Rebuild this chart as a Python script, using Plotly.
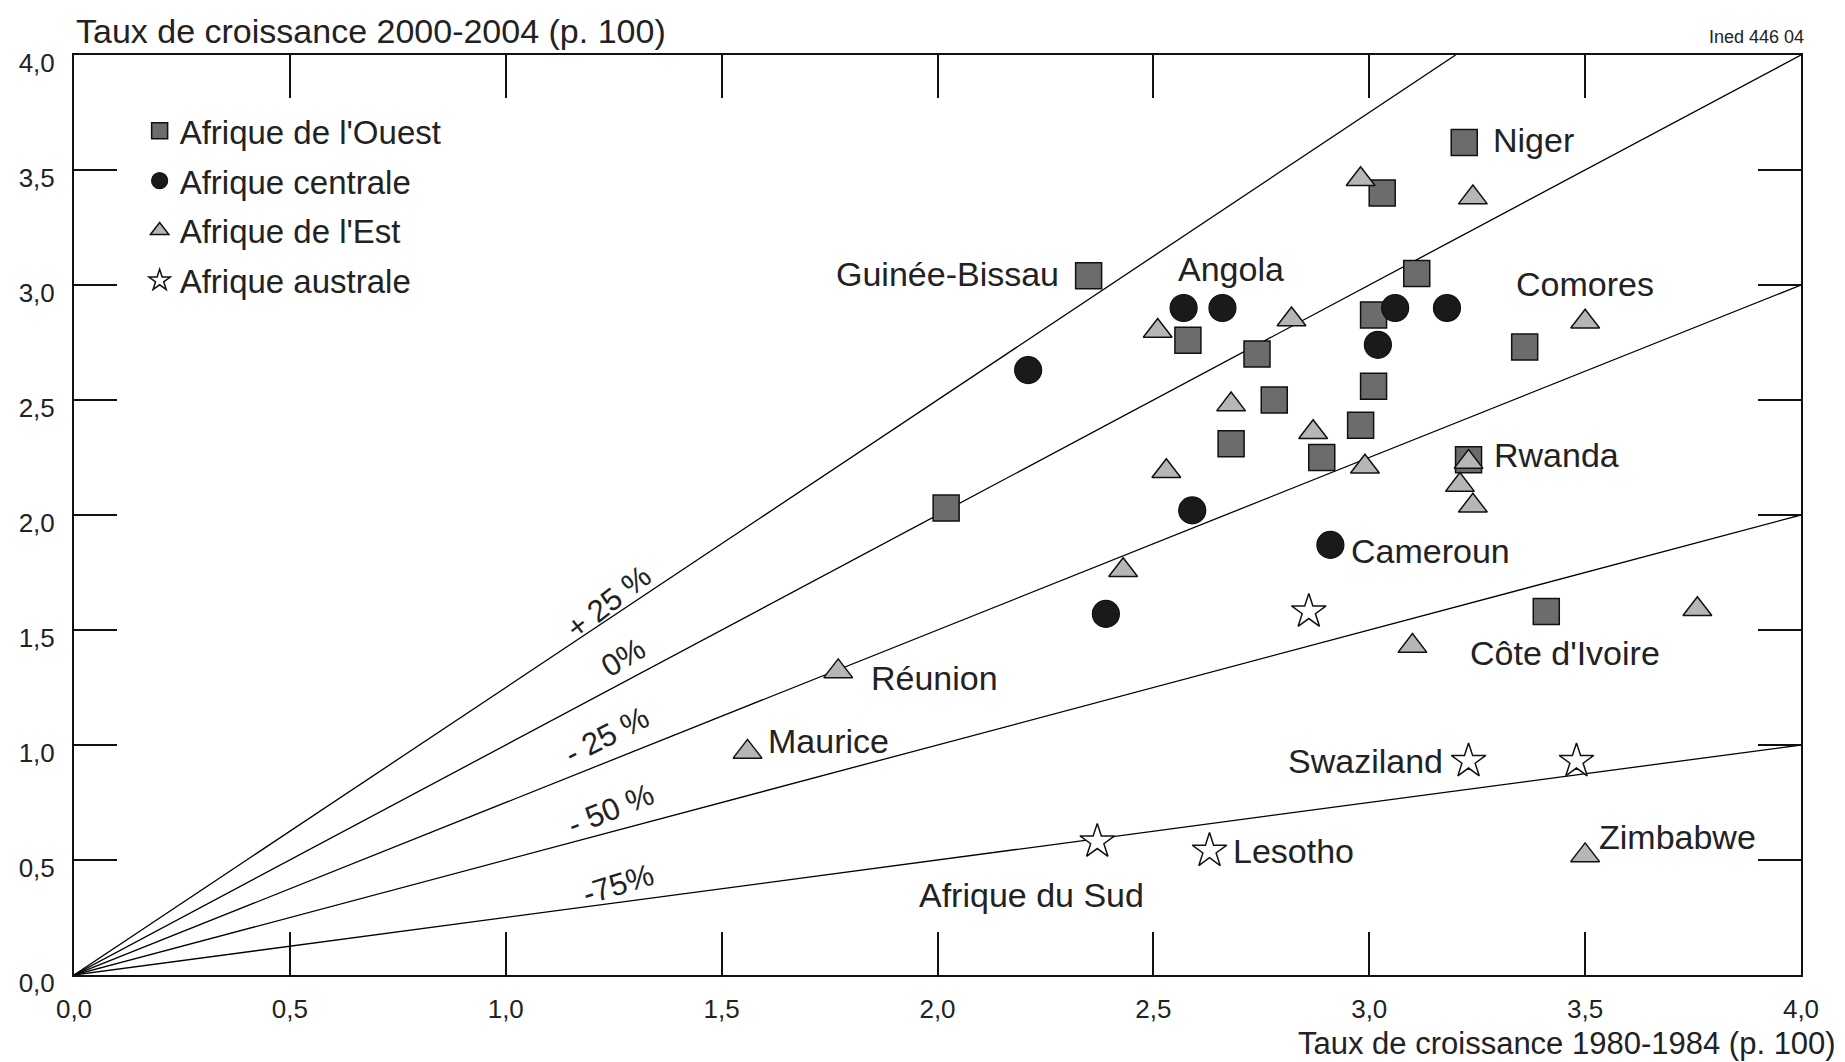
import plotly.graph_objects as go

# ---------------- data ----------------
ouest_x = [3.22, 3.03, 2.35, 3.11, 3.01, 2.58, 2.74, 3.36, 3.01, 2.78, 2.98, 2.68, 2.89, 3.23, 2.02, 3.41]
ouest_y = [3.62, 3.40, 3.04, 3.05, 2.87, 2.76, 2.70, 2.73, 2.56, 2.50, 2.39, 2.31, 2.25, 2.24, 2.03, 1.58]

centrale_x = [2.21, 2.57, 2.66, 3.06, 3.18, 3.02, 2.59, 2.91, 2.39]
centrale_y = [2.63, 2.90, 2.90, 2.90, 2.90, 2.74, 2.02, 1.87, 1.57]

est_x = [2.98, 3.24, 2.51, 2.82, 3.50, 2.68, 2.87, 2.53, 2.99, 3.23, 3.21, 3.24, 2.43, 3.10, 3.76, 1.77, 1.56, 3.50]
est_y = [3.46, 3.38, 2.80, 2.85, 2.84, 2.48, 2.36, 2.19, 2.21, 2.23, 2.13, 2.04, 1.76, 1.43, 1.59, 1.32, 0.97, 0.52]

australe_x = [2.86, 3.23, 3.48, 2.37, 2.63]
australe_y = [1.58, 0.93, 0.93, 0.58, 0.54]

series_names = ["Afrique de l'Ouest", "Afrique centrale", "Afrique de l'Est", "Afrique australe"]

# country labels: (text, x, y of the labelled point)
label_text = ["Niger", "Guinée-Bissau", "Angola", "Comores", "Rwanda", "Cameroun", "Côte d'Ivoire",
              "Réunion", "Maurice", "Swaziland", "Lesotho", "Afrique du Sud", "Zimbabwe"]
label_x = [3.22, 2.35, 2.66, 3.50, 3.23, 2.91, 3.41, 1.77, 1.56, 3.23, 2.63, 2.37, 3.50]
label_y = [3.62, 3.04, 2.90, 2.84, 2.24, 1.87, 1.58, 1.32, 0.97, 0.93, 0.54, 0.58, 0.52]

# reference lines: change of growth rate between the periods
ratio_change = [0.25, 0.0, -0.25, -0.50, -0.75]
ratio_text = ["+ 25 %", "0%", "- 25 %", "- 50 %", "-75%"]

tick_vals = [0, 0.5, 1, 1.5, 2, 2.5, 3, 3.5, 4]
tick_text = ["0,0", "0,5", "1,0", "1,5", "2,0", "2,5", "3,0", "3,5", "4,0"]

x_title = "Taux de croissance 1980-1984 (p. 100)"
y_title = "Taux de croissance 2000-2004 (p. 100)"
source_note = "Ined 446 04"

# ---------------- styling ----------------
FONT = "Liberation Sans Narrow, Arial Narrow, Liberation Sans, Arial, sans-serif"
AX_MAX = 4.0

fig = go.Figure()

# reference lines
for r in ratio_change:
    k = 1 + r
    xe = min(AX_MAX, AX_MAX / k)
    fig.add_trace(go.Scatter(x=[0, xe], y=[0, k * xe], mode="lines",
                             line=dict(color="black", width=1.3),
                             showlegend=False, hoverinfo="skip"))

marker_styles = [
    dict(symbol="square", size=26, color="#6c6c6c", line=dict(color="#111111", width=1.5)),
    dict(symbol="circle", size=27, color="#1a1a1a", line=dict(color="#111111", width=1.2)),
    dict(symbol="triangle-up", size=25, color="#b6b6b6", line=dict(color="#111111", width=1.5)),
    dict(symbol="star", size=26, color="white", line=dict(color="#111111", width=1.5)),
]
xs = [ouest_x, centrale_x, est_x, australe_x]
ys = [ouest_y, centrale_y, est_y, australe_y]
for i, (name, x, y, m) in enumerate(zip(series_names, xs, ys, marker_styles)):
    fig.add_trace(go.Scatter(x=x, y=y, mode="markers", name=name, marker=m,
                             legendgroup=f"g{i}"))

# country labels offsets (pixels)
label_style = {
    "Niger": ("left", 27, 2),
    "Guinée-Bissau": ("right", -28, 2),
    "Angola": ("center", 9, 39),
    "Comores": ("center", 0, 38),
    "Rwanda": ("left", 23, 5),
    "Cameroun": ("left", 19, -6),
    "Côte d'Ivoire": ("center", 19, -41),
    "Réunion": ("left", 31, -7),
    "Maurice": ("left", 18, 11),
    "Swaziland": ("right", -24, 0),
    "Lesotho": ("left", 21, 0),
    "Afrique du Sud": ("center", -66, -53),
    "Zimbabwe": ("left", 12, 18),
}
for t, x, y in zip(label_text, label_x, label_y):
    anc, dx, dy = label_style[t]
    fig.add_annotation(x=x, y=y, text=t, showarrow=False, xanchor=anc, yanchor="middle",
                       xshift=dx, yshift=dy, font=dict(family=FONT, size=34, color="#222"))

# reference-line labels
line_label_pos = [(1.237, 1.62, -38), (1.272, 1.38, -31), (1.234, 1.043, -27),
                  (1.243, 0.72, -22), (1.259, 0.394, -17)]
for t, (x, y, a) in zip(ratio_text, line_label_pos):
    fig.add_annotation(x=x, y=y, text=t, showarrow=False, textangle=a,
                       font=dict(family=FONT, size=31, color="#222"))

# axis titles and note
fig.add_annotation(xref="paper", yref="paper", x=0, y=1, xanchor="left", yanchor="middle",
                   yshift=24, text=y_title, showarrow=False,
                   font=dict(family=FONT, size=34, color="#222"))
fig.add_annotation(xref="paper", yref="paper", x=1, y=0, xanchor="right", yanchor="middle",
                   xshift=37, yshift=-68, text=x_title, showarrow=False,
                   font=dict(family=FONT, size=31, color="#222"))
fig.add_annotation(xref="paper", yref="paper", x=1, y=1, xanchor="right", yanchor="middle",
                   xshift=5, yshift=18, text=source_note, showarrow=False,
                   font=dict(family=FONT, size=18, color="#222"))

axis_common = dict(range=[0, AX_MAX], showgrid=False, zeroline=False, showline=True,
                   linecolor="#111", linewidth=2, mirror="ticks", ticks="inside",
                   ticklen=43, tickwidth=1.5, tickcolor="#111",
                   tickvals=tick_vals, ticktext=tick_text,
                   tickfont=dict(family=FONT, size=26, color="#222"))

fig.update_layout(
    width=1837, height=1054,
    margin=dict(l=66, r=44, t=47, b=87),
    plot_bgcolor="white", paper_bgcolor="white",
    xaxis=dict(**axis_common, ticklabelstandoff=10),
    yaxis=dict(**axis_common, ticklabelstandoff=12, ticklabelshift=8),
    legend=dict(x=0.038, y=0.948, xanchor="left", yanchor="top",
                bgcolor="rgba(0,0,0,0)", font=dict(family=FONT, size=33, color="#222"),
                itemsizing="trace", tracegroupgap=4),
    font=dict(family=FONT),
)

fig.write_html("out.html")
